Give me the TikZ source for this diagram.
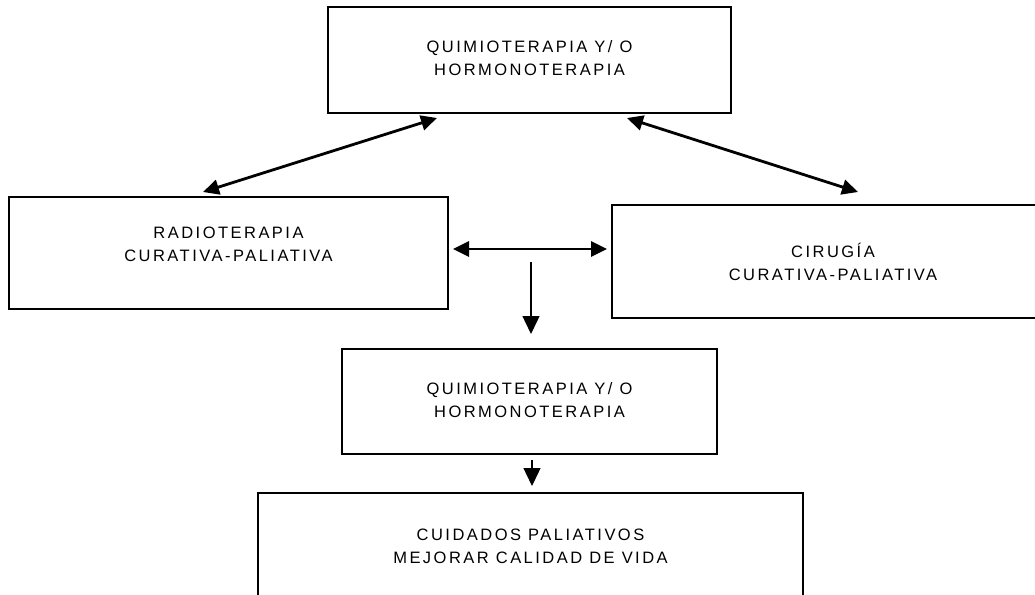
\documentclass[tikz,border=0pt]{standalone}
\usepackage{fontspec}
\setmainfont{Liberation Sans}
\newfontfamily\rotulo[LetterSpace=15]{Liberation Sans}
\usetikzlibrary{arrows.meta}

\begin{document}
\begin{tikzpicture}[x=1pt,y=-1pt,
  caja/.style={draw, line width=1.2pt, inner sep=0pt},
  texto/.style={font=\rotulo\fontsize{16.5}{23}\selectfont, align=center},
  doble/.style={{Triangle[length=16pt,width=15pt]}-{Triangle[length=16pt,width=15pt]}, line width=2.8pt},
  baja/.style={-{Triangle[length=18pt,width=17pt]}, line width=1.4pt}]
\useasboundingbox (0,0) rectangle (1035,594);
\clip (0,0) rectangle (1035,594);
% cajas
\node[caja, minimum width=403pt, minimum height=106pt] (quimioA) at (529.5,60) {};
\node[caja, minimum width=439pt, minimum height=112pt] (radio) at (228.5,253) {};
\node[caja, minimum width=442pt, minimum height=113pt] (cirugia) at (833,261.5) {};
\node[caja, minimum width=375pt, minimum height=105pt] (quimioB) at (529.5,401.5) {};
\node[caja, minimum width=545pt, minimum height=107pt] (cuidados) at (530.5,546.5) {};
% textos
\node[texto] (quimioAt) at ([yshift=2pt]quimioA.center) {QUIMIOTERAPIA Y/ O\\HORMONOTERAPIA};
\node[texto] (radiot) at ([yshift=9pt]radio.center) {RADIOTERAPIA\\CURATIVA-PALIATIVA};
\node[texto] (cirugiat) at (cirugia.center) {CIRUGÍA\\CURATIVA-PALIATIVA};
\node[texto] (quimioBt) at ([yshift=1.5pt]quimioB.center) {QUIMIOTERAPIA Y/ O\\HORMONOTERAPIA};
\node[texto] (cuidadost) at (cuidados.center) {CUIDADOS PALIATIVOS\\MEJORAR CALIDAD DE VIDA};
% extremos de las flechas
\coordinate (qi) at (437,118);
\coordinate (ri) at (203,192);
\coordinate (qd) at (627,118);
\coordinate (cd) at (858,192);
\coordinate (hi) at (453,249);
\coordinate (hd) at (607,249);
\coordinate (ba) at (531,262);
\coordinate (bb) at (531,334);
\coordinate (ca) at (532,460);
\coordinate (cb) at (532,486);
% flechas
\draw[doble] (qi) -- (ri);
\draw[doble] (qd) -- (cd);
\draw[doble] (hi) -- (hd);
\draw[baja] (ba) -- (bb);
\draw[baja] (ca) -- (cb);
\end{tikzpicture}
\end{document}
